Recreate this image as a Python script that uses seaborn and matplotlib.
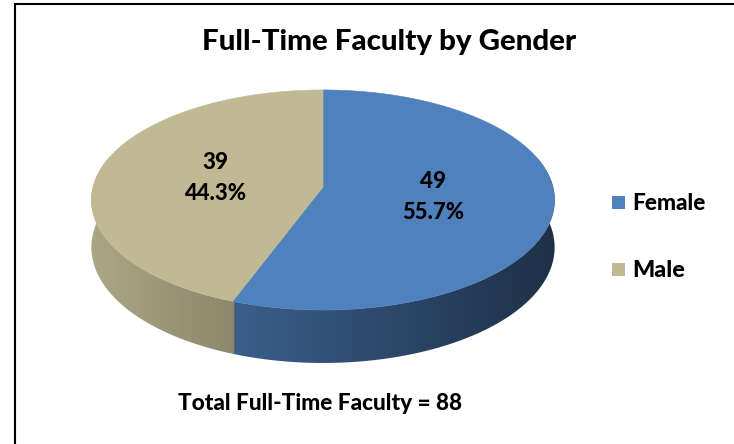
import numpy as np
import matplotlib
matplotlib.use("Agg")
import matplotlib.pyplot as plt
import seaborn as sns
from matplotlib.patches import Polygon, Rectangle
from matplotlib.colors import to_rgb

# ---- data -------------------------------------------------------------
categories = ["Female", "Male"]
counts = [49, 39]
slice_colors = ["#4f81bd", "#c0b994"]
title_text = "Full-Time Faculty by Gender"
footer_text = "Total Full-Time Faculty = 88"

sns.set_theme(style="white")
plt.rcParams["font.family"] = ["Lato", "DejaVu Sans"]
palette = sns.color_palette(slice_colors)

total = sum(counts)
shares = [c / total * 100 for c in counts]

W, H = 734, 444
fig = plt.figure(figsize=(W / 100, H / 100), dpi=100)
ax = fig.add_axes([0, 0, 1, 1])
ax.axis("off")
ax.set_xlim(0, W)
ax.set_ylim(H, 0)
renderer = fig.canvas.get_renderer()


def fitted_text(x, y, s, width, size0=15, **kw):
    """Place heavy text and scale its size so it spans `width` pixels."""
    t = ax.text(x, y, s, fontsize=size0, fontweight="black", color="black",
                zorder=5, **kw)
    w = t.get_window_extent(renderer).width
    t.set_fontsize(size0 * width / w)
    return t


# ---- projected disk (tilted, slight perspective) ----------------------
CX, CY = 323, 187          # projected centre of the top face
A, B, K = 230, 108.5, 0.118
DEPTH = 46.7
VIS_LO, VIS_HI = np.radians(-197), np.radians(17)   # front wall range


def project(theta, r=1.0, drop=0.0):
    u, v = r * np.cos(theta), r * np.sin(theta)
    s = 1.0 / (1.0 + K * v)
    return CX + A * u * s, CY - B * v * s + drop * s


def shade(x):
    u = np.clip((x - CX) / A, -1.1, 1.1)
    return np.clip(0.635 - 0.26 * u, 0.3, 1.0)


# slices run clockwise from 12 o'clock
starts = []
angle = 90.0
for p in shares:
    starts.append((angle - p * 3.6, angle))
    angle -= p * 3.6

# side walls (drawn first, top faces go over them)
for i, (lo, hi) in enumerate(starts):
    lo_r, hi_r = np.radians(lo), np.radians(hi)
    a0, a1 = max(lo_r, VIS_LO), min(hi_r, VIS_HI)
    if a0 >= a1:
        continue
    if i > 0:
        a1 = min(a1 + np.radians(0.4), VIS_HI)
    th = np.linspace(a0, a1, 200)
    tx, ty = project(th)
    bx, by = project(th[::-1], drop=DEPTH)
    pts = np.column_stack([np.r_[tx, bx], np.r_[ty, by]])
    base = np.array(to_rgb(palette[i]))
    poly = Polygon(pts, closed=True, facecolor="none", edgecolor="none", zorder=1)
    ax.add_patch(poly)
    x0, x1 = pts[:, 0].min() - 2, pts[:, 0].max() + 2
    xs = np.linspace(x0, x1, 300)
    img = (base[None, :] * shade(xs)[:, None])[None, :, :]
    im = ax.imshow(img, extent=(x0, x1, pts[:, 1].max() + 2, pts[:, 1].min() - 2),
                   aspect="auto", interpolation="bilinear", zorder=1)
    im.set_clip_path(poly)

# top faces
for i, (lo, hi) in enumerate(starts):
    th = np.linspace(np.radians(hi), np.radians(lo), 300)
    rx, ry = project(th)
    pts = np.column_stack([np.r_[CX, rx], np.r_[CY, ry]])
    ax.add_patch(Polygon(pts, closed=True, facecolor=palette[i],
                         edgecolor=palette[i], linewidth=0.4, zorder=3))

# data labels: count and percentage
for i, (lo, hi) in enumerate(starts):
    mid = np.radians((lo + hi) / 2)
    lx, ly = project(mid, r=0.48)
    fitted_text(lx, ly - 8.5, f"{counts[i]}", 26, ha="center", va="baseline")
    fitted_text(lx, ly + 22.5, f"{shares[i]:.1f}%", 62, ha="center", va="baseline")

# title and footer
fitted_text(389, 50, title_text, 376, ha="center", va="baseline")
fitted_text(320.5, 410, footer_text, 285, ha="center", va="baseline")

# legend
legend_y = [202, 269]
legend_w = [74, 53]
for i, name in enumerate(categories):
    ax.add_patch(Rectangle((612, legend_y[i] - 6.5), 13, 13,
                           facecolor=palette[i], edgecolor="none", zorder=5))
    fitted_text(632, legend_y[i] + 7.5, name, legend_w[i], ha="left", va="baseline")

# chart frame (left and top edges)
ax.plot([15, 15, W + 5], [H + 5, 4.3, 4.3], color="black", linewidth=1.5,
        solid_joinstyle="miter", zorder=6)

ax.set_xlim(0, W)
ax.set_ylim(H, 0)
fig.savefig("out.png", dpi=100, facecolor="white")
